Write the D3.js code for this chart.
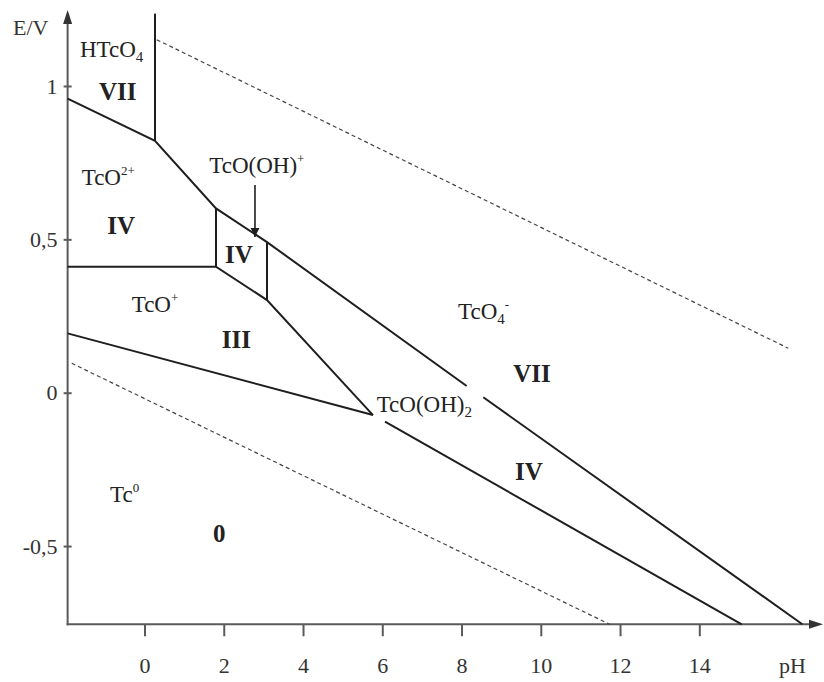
<!DOCTYPE html>
<html>
<head>
<meta charset="utf-8">
<script src="https://cdn.jsdelivr.net/npm/d3@7/dist/d3.min.js"></script>
<style>
  body { margin: 0; background: #fff; }
</style>
</head>
<body>
<svg id="chart" width="824" height="682"></svg>
<script>
// axis ticks
const xTicks = [0, 2, 4, 6, 8, 10, 12, 14];
const yTicks = [1, 0.5, 0, -0.5];
const yTickLabels = ["1", "0,5", "0", "-0,5"];
const pHMin = -1.94, EMin = -0.755;

// phase boundaries, points as [pH, E/V]
const htco4Line = [[0.265, 1.236], [0.265, 0.821]];
const upperLine = [[-1.94, 0.959], [0.265, 0.821], [1.804, 0.601], [3.091, 0.491], [8.13, 0.022]];
const upperLine2 = [[8.549, -0.015], [16.60, -0.755]];
const boxLeft = [[1.804, 0.601], [1.804, 0.411]];
const boxRight = [[3.091, 0.491], [3.091, 0.302]];
const tcoLine = [[-1.94, 0.411], [1.804, 0.411], [3.091, 0.302], [5.765, -0.073]];
const tc0Line = [[-1.94, 0.1935], [5.765, -0.073]];
const lowerLine = [[6.069, -0.0945], [15.07, -0.755]];
// water stability (dashed)
const o2Line = [[0.308, 1.151], [16.245, 0.145]];
const h2Line = [[-1.837, 0.096], [11.736, -0.755]];

// species and oxidation state labels
const species = [
  { text: "HTcO_{4}", pH: -1.628, E: 1.094 },
  { text: "TcO^{2+}", pH: -1.585, E: 0.677 },
  { text: "TcO(OH)^{+}", pH: 1.635, E: 0.715 },
  { text: "TcO^{+}", pH: -0.323, E: 0.264 },
  { text: "TcO_{4}^{-}", pH: 7.911, E: 0.240 },
  { text: "TcO(OH)_{2}", pH: 5.859, E: -0.062 },
  { text: "Tc^{0}", pH: -0.871, E: -0.355 }
];
const states = [
  { text: "VII", pH: -1.148, E: 0.954 },
  { text: "IV", pH: -0.939, E: 0.519 },
  { text: "IV", pH: 2.031, E: 0.4216 },
  { text: "III", pH: 1.948, E: 0.1447 },
  { text: "VII", pH: 9.306, E: 0.0362 },
  { text: "IV", pH: 9.349, E: -0.2845 },
  { text: "0", pH: 1.729, E: -0.4855 }
];
const arrowLine = [[2.788, 0.677], [2.788, 0.508]];

const svg = d3.select("#chart");
const font = "'Liberation Serif', 'Times New Roman', serif";
const ink = "#1e1e1e";
const axisColor = "#5a5a5a";

const x = d3.scaleLinear().domain([0, 14]).range([144.5, 699.3]);
const y = d3.scaleLinear().domain([0, 1]).range([392.7, 86]);
const x0 = x(pHMin), y0 = y(EMin);

const line = d3.line().x(d => x(d[0])).y(d => y(d[1]));

svg.append("defs").append("marker")
  .attr("id", "arr")
  .attr("viewBox", "0 0 10 10")
  .attr("refX", 10).attr("refY", 5)
  .attr("markerWidth", 9).attr("markerHeight", 11)
  .attr("markerUnits", "userSpaceOnUse")
  .attr("orient", "auto")
  .append("path").attr("d", "M0,0 L10,5 L0,10 Z").attr("fill", ink);

// axes
const yAxis = svg.append("g")
  .attr("transform", `translate(${x0},0)`)
  .call(d3.axisLeft(y).tickValues(yTicks)
    .tickFormat((d, i) => yTickLabels[i]).tickSize(4).tickPadding(6));
yAxis.select(".domain").remove();
yAxis.selectAll(".tick line").attr("x1", 4).attr("stroke", axisColor).attr("stroke-width", 2);
yAxis.selectAll(".tick text").attr("font-family", font).attr("font-size", 22).attr("fill", "#333");

const xAxis = svg.append("g")
  .attr("transform", `translate(0,${y0})`)
  .call(d3.axisBottom(x).tickValues(xTicks).tickSize(12).tickPadding(21));
xAxis.select(".domain").remove();
xAxis.selectAll(".tick line").attr("stroke", axisColor).attr("stroke-width", 2);
xAxis.selectAll(".tick text").attr("font-family", font).attr("font-size", 22).attr("fill", "#333");

svg.append("line").attr("x1", x0).attr("x2", x0).attr("y1", y0 + 1).attr("y2", 22)
  .attr("stroke", axisColor).attr("stroke-width", 2);
svg.append("path").attr("d", `M${x0},10 L${x0 - 4.5},24 L${x0 + 4.5},24 Z`).attr("fill", "#333");
svg.append("line").attr("x1", x0 - 1).attr("x2", 810).attr("y1", y0).attr("y2", y0)
  .attr("stroke", axisColor).attr("stroke-width", 2);
svg.append("path").attr("d", `M823,${y0} L809,${y0 - 4.5} L809,${y0 + 4.5} Z`).attr("fill", "#333");

svg.append("text").attr("x", 13).attr("y", 35).text("E/V")
  .attr("font-family", font).attr("font-size", 22).attr("fill", "#333");
svg.append("text").attr("x", 779).attr("y", 673).text("pH")
  .attr("font-family", font).attr("font-size", 22).attr("fill", "#333");

// dashed water lines
svg.selectAll(".water").data([o2Line, h2Line]).enter().append("path")
  .attr("d", line).attr("fill", "none")
  .attr("stroke", "#444").attr("stroke-width", 1.2).attr("stroke-dasharray", "4,3");

// boundaries
svg.selectAll(".bound")
  .data([htco4Line, upperLine, upperLine2, boxLeft, boxRight, tcoLine, tc0Line, lowerLine])
  .enter().append("path")
  .attr("d", line).attr("fill", "none")
  .attr("stroke", ink).attr("stroke-width", 2).attr("stroke-linejoin", "miter");

// arrow to TcO(OH)+ region
svg.append("path").attr("d", line(arrowLine)).attr("stroke", ink)
  .attr("stroke-width", 1.6).attr("marker-end", "url(#arr)");

// species labels with sub/superscripts
species.forEach(s => {
  const t = svg.append("text").attr("x", x(s.pH)).attr("y", y(s.E))
    .attr("font-family", font).attr("font-size", 23).attr("fill", "#222");
  const re = /(_|\^)\{([^}]*)\}|([^_^]+)/g;
  let m, shift = 0;
  while ((m = re.exec(s.text)) !== null) {
    let target = 0, size = 23, txt = m[3];
    if (m[1] === "_") { target = 5; size = 15; txt = m[2]; }
    if (m[1] === "^") { target = -10; size = 13; txt = m[2]; }
    t.append("tspan").attr("dy", target - shift).attr("font-size", size).text(txt);
    shift = target;
  }
});

svg.selectAll(".state").data(states).enter().append("text")
  .attr("x", d => x(d.pH)).attr("y", d => y(d.E))
  .attr("font-family", font).attr("font-size", 25).attr("font-weight", "bold")
  .attr("fill", "#222").text(d => d.text);
</script>
</body>
</html>
